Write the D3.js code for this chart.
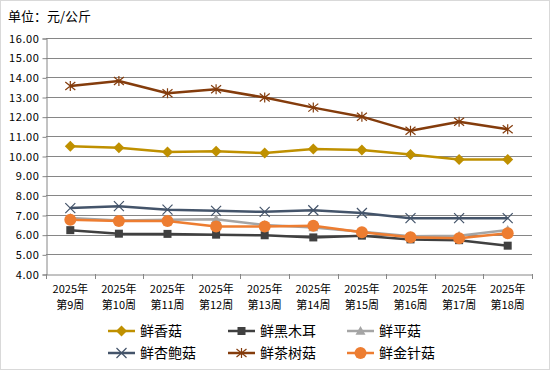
<!DOCTYPE html>
<html>
<head>
<meta charset="utf-8">
<script src="https://cdn.jsdelivr.net/npm/d3@7"></script>
<style>
  body { margin: 0; background: #fff; }
  svg { display: block; }
</style>
</head>
<body>
<div id="chart"></div>
<script>
const weeks = ["第9周", "第10周", "第11周", "第12周", "第13周", "第14周", "第15周", "第16周", "第17周", "第18周"];
const yearLabel = "2025年";
const yTicks = [4, 5, 6, 7, 8, 9, 10, 11, 12, 13, 14, 15, 16];

const xiangGu = [10.50, 10.42, 10.20, 10.24, 10.15, 10.36, 10.30, 10.08, 9.82, 9.82];
const heiMuEr = [6.23, 6.05, 6.04, 6.00, 5.97, 5.86, 5.95, 5.76, 5.72, 5.44];
const pingGu = [6.85, 6.72, 6.76, 6.78, 6.49, 6.36, 6.15, 5.92, 5.95, 6.24];
const xingBaoGu = [7.35, 7.45, 7.27, 7.21, 7.16, 7.24, 7.10, 6.84, 6.84, 6.84];
const chaShuGu = [13.56, 13.81, 13.19, 13.39, 12.97, 12.46, 12.00, 11.28, 11.74, 11.36];
const jinZhenGu = [6.76, 6.69, 6.70, 6.42, 6.42, 6.45, 6.12, 5.87, 5.82, 6.07];

const series = [
  { name: "鲜香菇", values: xiangGu, color: "#BF9000", marker: "diamond" },
  { name: "鲜黑木耳", values: heiMuEr, color: "#404040", marker: "square" },
  { name: "鲜平菇", values: pingGu, color: "#A5A5A5", marker: "triangle" },
  { name: "鲜杏鲍菇", values: xingBaoGu, color: "#44546A", marker: "x" },
  { name: "鲜茶树菇", values: chaShuGu, color: "#843C0C", marker: "star" },
  { name: "鲜金针菇", values: jinZhenGu, color: "#ED7D31", marker: "circle" }
];

const width = 550, height = 370;
const font = "'Noto Sans CJK SC', 'DejaVu Sans', sans-serif";
const plot = { left: 46, right: 532, top: 38, bottom: 274 };

const svg = d3.select("#chart").append("svg")
  .attr("width", width)
  .attr("height", height)
  .style("font-family", font);

svg.append("rect")
  .attr("x", 0.5).attr("y", 0.5)
  .attr("width", width - 1).attr("height", height - 1)
  .attr("fill", "#fff")
  .attr("stroke", "#d9d9d9");

svg.append("text")
  .attr("x", 8).attr("y", 21)
  .attr("font-size", 13)
  .attr("fill", "#000")
  .text("单位：元/公斤");

const x = d3.scaleBand().domain(weeks).range([plot.left, plot.right]);
const y = d3.scaleLinear().domain([4, 16]).range([plot.bottom, plot.top]);

// gridlines
svg.append("g")
  .selectAll("line")
  .data(yTicks.filter(d => d > 4))
  .join("line")
  .attr("x1", plot.left).attr("x2", plot.right)
  .attr("y1", d => Math.round(y(d)) + 0.5)
  .attr("y2", d => Math.round(y(d)) + 0.5)
  .attr("stroke", "#868686")
  .attr("stroke-width", 1);

// y axis
const yAxis = svg.append("g")
  .attr("transform", `translate(${plot.left + 0.5},0.5)`)
  .call(d3.axisLeft(y).tickValues(yTicks).tickFormat(d3.format(".2f")).tickSize(4).tickPadding(3));
yAxis.select(".domain").attr("stroke", "#868686");
yAxis.selectAll(".tick line").attr("stroke", "#868686");
yAxis.selectAll(".tick text")
  .attr("font-size", 11)
  .attr("font-family", font)
  .attr("letter-spacing", 0.6)
  .attr("fill", "#000");

// x axis
const xAxis = svg.append("g")
  .attr("transform", `translate(0.5,${plot.bottom + 0.5})`)
  .call(d3.axisBottom(x).tickSize(0).tickFormat(""));
xAxis.select(".domain").attr("stroke", "#868686");
svg.append("g")
  .selectAll("line")
  .data(weeks.concat([null]))
  .join("line")
  .attr("x1", (d, i) => Math.round(plot.left + i * x.bandwidth()) + 0.5)
  .attr("x2", (d, i) => Math.round(plot.left + i * x.bandwidth()) + 0.5)
  .attr("y1", plot.bottom)
  .attr("y2", plot.bottom + 5)
  .attr("stroke", "#868686");

const xLabels = svg.append("g")
  .selectAll("text")
  .data(weeks)
  .join("text")
  .attr("x", d => x(d) + x.bandwidth() / 2)
  .attr("text-anchor", "middle")
  .attr("font-size", 11)
  .attr("fill", "#000");
xLabels.append("tspan").attr("x", d => x(d) + x.bandwidth() / 2).attr("y", 293).text(yearLabel);
xLabels.append("tspan").attr("x", d => x(d) + x.bandwidth() / 2).attr("y", 309).text(d => d);

// markers
function drawMarker(g, type, color, s) {
  if (type === "diamond") {
    g.append("path").attr("d", `M0,${-s}L${s},0L0,${s}L${-s},0Z`).attr("fill", color);
  } else if (type === "square") {
    g.append("rect").attr("x", -s * 0.8).attr("y", -s * 0.8).attr("width", s * 1.6).attr("height", s * 1.6).attr("fill", color);
  } else if (type === "triangle") {
    g.append("path").attr("d", `M0,${-s}L${s},${s * 0.75}L${-s},${s * 0.75}Z`).attr("fill", color);
  } else if (type === "x") {
    g.append("path").attr("d", `M${-s},${-s}L${s},${s}M${-s},${s}L${s},${-s}`)
      .attr("stroke", color).attr("stroke-width", 1.2).attr("fill", "none");
  } else if (type === "star") {
    g.append("path").attr("d", `M${-s},${-s * 0.8}L${s},${s * 0.8}M${-s},${s * 0.8}L${s},${-s * 0.8}M0,${-s}L0,${s}`)
      .attr("stroke", color).attr("stroke-width", 1.2).attr("fill", "none");
  } else if (type === "circle") {
    g.append("circle").attr("r", s).attr("fill", color);
  }
}

const markerSize = { diamond: 5.5, square: 5, triangle: 5, x: 5, star: 5, circle: 6 };

const line = d3.line()
  .x((d, i) => x(weeks[i]) + x.bandwidth() / 2)
  .y(d => y(d));

series.forEach(s => {
  svg.append("path")
    .datum(s.values)
    .attr("fill", "none")
    .attr("stroke", s.color)
    .attr("stroke-width", 2.5)
    .attr("stroke-linejoin", "round")
    .attr("d", line);
  s.values.forEach((v, i) => {
    const g = svg.append("g")
      .attr("transform", `translate(${x(weeks[i]) + x.bandwidth() / 2},${y(v)})`);
    drawMarker(g, s.marker, s.color, markerSize[s.marker]);
  });
});

// legend
const legendCols = [108, 228, 347];
const legendRows = [331, 353];
series.forEach((s, i) => {
  const lx = legendCols[i % 3];
  const ly = legendRows[Math.floor(i / 3)];
  const g = svg.append("g").attr("transform", `translate(${lx},${ly})`);
  g.append("line")
    .attr("x1", 0).attr("x2", 27)
    .attr("stroke", s.color).attr("stroke-width", 2.5);
  const m = g.append("g").attr("transform", "translate(13.5,0)");
  drawMarker(m, s.marker, s.color, markerSize[s.marker]);
  g.append("text")
    .attr("x", 32).attr("y", 5)
    .attr("font-size", 14)
    .attr("fill", "#000")
    .text(s.name);
});
</script>
</body>
</html>
